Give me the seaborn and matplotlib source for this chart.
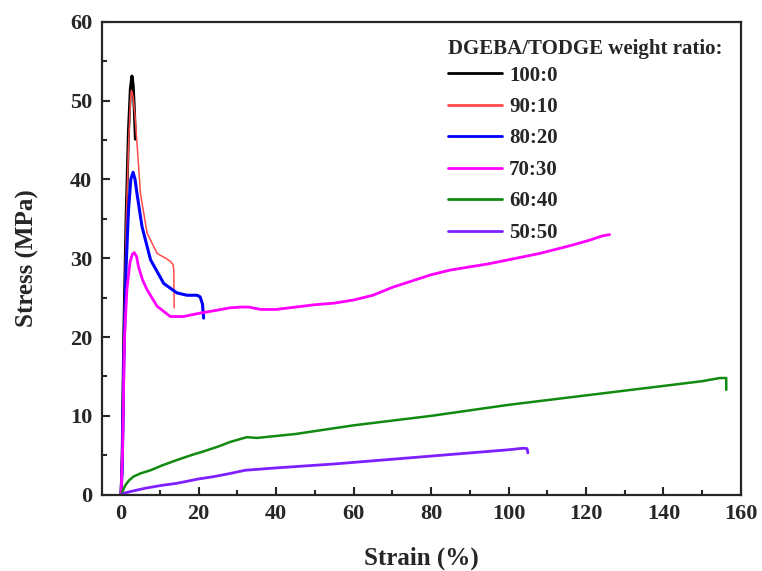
import pandas as pd
import matplotlib
matplotlib.use('Agg')
import matplotlib.pyplot as plt
from matplotlib.ticker import MultipleLocator
import seaborn as sns

# stress-strain curves
labels = ['100:0', '90:10', '80:20', '70:30', '60:40', '50:50']
colors = ['#000000', '#ff4a4a', '#0000ff', '#ff00ff', '#108a10', '#7f1fff']
widths = [2.2, 1.1, 2.2, 2.0, 1.8, 2.0]

strain_100 = [0, 0.3, 0.7, 1.3, 1.9, 2.4, 2.8, 3.1, 3.4, 3.7]
stress_100 = [0, 5, 20, 35, 46, 51.5, 53.1, 52, 49, 45.1]

strain_90 = [0, 0.3, 0.7, 1.3, 1.9, 2.4, 2.65, 3.1, 3.6, 4.1, 5.0, 6.7, 9.3, 11.5, 12.7, 13.4, 13.6, 13.7]
stress_90 = [0, 5, 20, 34, 44, 50, 51.3, 50.5, 48, 44.6, 38.2, 33.2, 30.6, 30.0, 29.6, 29.2, 28.5, 23.7]

strain_80 = [0, 0.3, 0.7, 1.3, 1.9, 2.5, 3.1, 3.6, 4.1, 5.4, 7.6, 11.0, 14.4, 17.0, 19.6, 20.4, 21.0, 21.3]
stress_80 = [0, 4, 17, 29, 36, 40, 40.9, 40, 38.2, 34.0, 29.8, 26.8, 25.6, 25.3, 25.3, 25.1, 24.2, 22.4]

strain_70 = [0, 0.4, 0.85, 1.5, 2.3, 2.9, 3.4, 4.0, 4.5, 5.5, 6.7, 9.3, 12.7, 16.1, 20, 24.7, 28, 30.8, 33, 36,
             40, 45, 50, 55, 60, 65, 70, 75, 80, 85, 90, 95, 100, 105, 108, 112, 116, 121, 124, 126.1]
stress_70 = [0, 6, 19.6, 26, 29.5, 30.5, 30.7, 30.2, 28.9, 27.3, 26.0, 23.9, 22.6, 22.6, 23.0, 23.4, 23.7, 23.8, 23.8, 23.5,
             23.5, 23.8, 24.1, 24.3, 24.7, 25.3, 26.3, 27.1, 27.9, 28.5, 28.9, 29.3, 29.8, 30.3, 30.6, 31.1, 31.6, 32.3, 32.8, 33.0]

strain_60 = [0, 0.25, 0.6, 1.1, 2.0, 3.2, 5.0, 7.6, 10.5, 14.4, 18.0, 21.3, 25.0, 28.2, 31.0, 32.5, 35.0,
             45, 60, 80, 100, 120, 140, 150, 154.5, 156.2, 156.2]
stress_60 = [0, 0.2, 0.7, 1.2, 1.8, 2.3, 2.7, 3.1, 3.7, 4.4, 5.0, 5.5, 6.1, 6.7, 7.1, 7.3, 7.2,
             7.7, 8.8, 10.0, 11.4, 12.6, 13.8, 14.4, 14.8, 14.8, 13.3]

strain_50 = [0, 0.8, 2.4, 6.0, 10.0, 14.4, 20.0, 24.0, 28.2, 32.0, 40, 55, 70, 85, 100, 103.8, 104.8, 105.0]
stress_50 = [0, 0.2, 0.4, 0.8, 1.15, 1.45, 2.0, 2.3, 2.7, 3.1, 3.4, 3.9, 4.5, 5.1, 5.7, 5.9, 5.85, 5.3]

strains = [strain_100, strain_90, strain_80, strain_70, strain_60, strain_50]
stresses = [stress_100, stress_90, stress_80, stress_70, stress_60, stress_50]

sns.set_style('ticks')
plt.rcParams['font.family'] = ['Liberation Serif', 'DejaVu Serif']
plt.rcParams['font.weight'] = 'bold'

fig, ax = plt.subplots(figsize=(7.62, 5.71), dpi=100)
fig.subplots_adjust(left=0.1335, right=0.9724, bottom=0.1336, top=0.962)

for lab, col, lw, sx, sy in zip(labels, colors, widths, strains, stresses):
    df = pd.DataFrame({'strain': sx, 'stress': sy})
    sns.lineplot(data=df, x='strain', y='stress', color=col, linewidth=lw,
                 sort=False, estimator=None, label=lab, ax=ax)

ax.set_xlim(-5, 160)
ax.set_ylim(0, 60)
ax.xaxis.set_major_locator(MultipleLocator(20))
ax.xaxis.set_minor_locator(MultipleLocator(10))
ax.yaxis.set_major_locator(MultipleLocator(10))
ax.yaxis.set_minor_locator(MultipleLocator(5))
ax.tick_params(which='both', direction='in', width=1.5, labelsize=16, pad=7)
ax.tick_params(which='major', length=6)
ax.tick_params(which='minor', length=3.5)
for lbl in ax.get_xticklabels() + ax.get_yticklabels():
    lbl.set_fontweight('bold')
for sp in ax.spines.values():
    sp.set_linewidth(1.6)

ax.set_xlabel('Strain (%)', fontsize=18, fontweight='bold', labelpad=16)
ax.set_ylabel('Stress (MPa)', fontsize=18, fontweight='bold', labelpad=22)

leg = ax.legend(title='DGEBA/TODGE weight ratio:', loc='upper left',
                bbox_to_anchor=(0.512, 1.004), frameon=False,
                prop={'size': 15, 'weight': 'bold'},
                title_fontproperties={'size': 15, 'weight': 'bold'},
                handlelength=2.6, handletextpad=0.35, labelspacing=0.55,
                alignment='left')
leg._legend_box.sep = 5.0
for h in leg.get_lines():
    h.set_linewidth(2.0)

plt.savefig('out.png', dpi=100)
